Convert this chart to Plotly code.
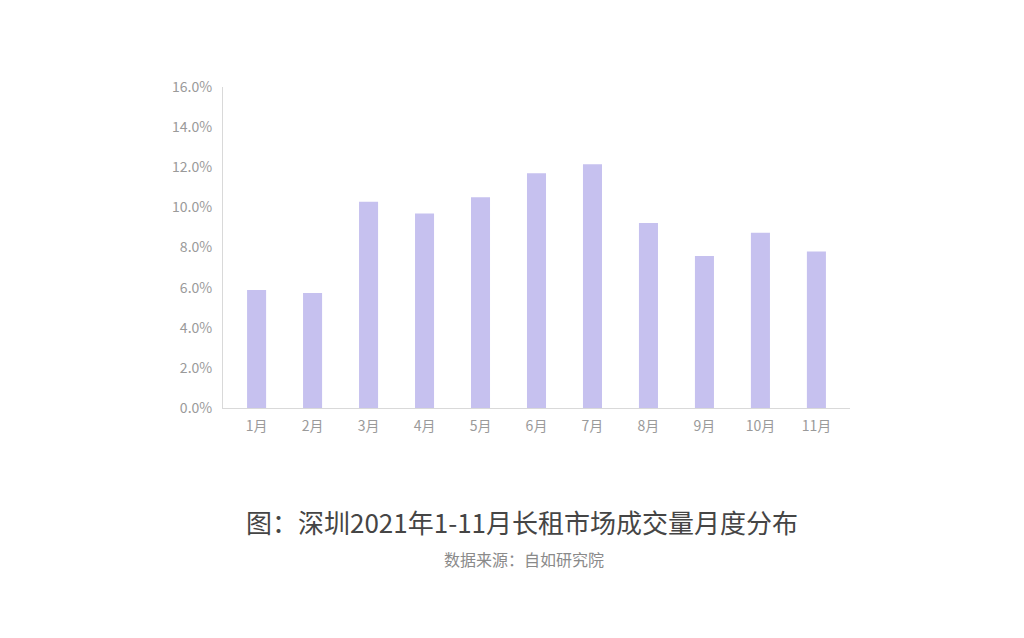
import plotly.graph_objects as go

months = ["1月", "2月", "3月", "4月", "5月", "6月", "7月", "8月", "9月", "10月", "11月"]
share = [5.88, 5.73, 10.28, 9.70, 10.50, 11.70, 12.15, 9.22, 7.58, 8.74, 7.80]
y_ticks = [0, 2, 4, 6, 8, 10, 12, 14, 16]
y_tick_labels = [f"{v:.1f}%" for v in y_ticks]
title_text = "图：深圳2021年1-11月长租市场成交量月度分布"
source_text = "数据来源：自如研究院"

font_family = "Noto Sans CJK SC"

fig = go.Figure()
fig.add_trace(go.Bar(
    x=list(range(len(months))),
    y=share,
    width=0.34,
    marker=dict(color="#c6c1ef", line=dict(width=0)),
    hoverinfo="skip",
))

fig.update_layout(
    width=1024,
    height=638,
    margin=dict(l=215, r=182, t=79, b=238),
    paper_bgcolor="white",
    plot_bgcolor="white",
    showlegend=False,
    font=dict(family=font_family, color="#9a9a9a", size=14),
    xaxis=dict(
        tickmode="array",
        tickvals=list(range(len(months))),
        ticktext=months,
        range=[-0.6, 10.6],
        showgrid=False,
        zeroline=False,
        showline=True,
        linecolor="#d9d9d9",
        linewidth=1,
        ticks="",
        tickfont=dict(size=14, color="#9a9a9a"),
        ticklabelstandoff=5,
    ),
    yaxis=dict(
        tickmode="array",
        tickvals=y_ticks,
        ticktext=y_tick_labels,
        range=[0, 16],
        showgrid=False,
        zeroline=False,
        showline=True,
        linecolor="#d9d9d9",
        linewidth=1,
        ticks="",
        tickfont=dict(size=14, color="#9a9a9a"),
        ticklabelstandoff=7,
    ),
    annotations=[
        dict(text=title_text, xref="paper", yref="paper", x=(522 - 223) / 627, y=(408 - 521) / 321,
             xanchor="center", yanchor="middle", showarrow=False,
             font=dict(family=font_family, size=26, color="#454545")),
        dict(text=source_text, xref="paper", yref="paper", x=(524 - 223) / 627, y=(408 - 559) / 321,
             xanchor="center", yanchor="middle", showarrow=False,
             font=dict(family=font_family, size=16, color="#8a8a8a")),
    ],
)

fig.write_html("out.html")
